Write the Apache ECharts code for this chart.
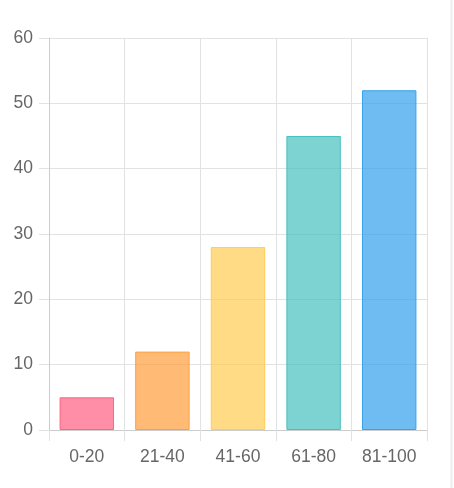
<!DOCTYPE html>
<html><head><meta charset="utf-8">
<script src="https://cdn.jsdelivr.net/npm/echarts@6/dist/echarts.min.js"></script>
<style>html,body{margin:0;padding:0;background:#fff}#c{width:454px;height:488px}</style>
</head><body><div id="c"></div>
<script>
const categories = ['0-20', '21-40', '41-60', '61-80', '81-100'];
const values = [5, 12, 28, 45, 52];
const fills = ['rgba(255,99,132,0.72)', 'rgba(255,159,64,0.72)', 'rgba(255,205,86,0.72)', 'rgba(75,192,192,0.72)', 'rgba(54,162,235,0.72)'];
const borders = ['rgb(255,99,132)', 'rgb(255,159,64)', 'rgb(255,205,86)', 'rgb(75,192,192)', 'rgb(54,162,235)'];
const yTicks = { min: 0, max: 60, interval: 10 };

const chart = echarts.init(document.getElementById('c'), null, { renderer: 'canvas' });
const font = 'Liberation Sans, Arial, Helvetica, sans-serif';
chart.setOption({
  animation: false,
  grid: { left: 49, right: 27, top: 38, bottom: 58 },
  xAxis: {
    type: 'category', data: categories, boundaryGap: true,
    axisLine: { show: true, lineStyle: { color: '#cccccc', width: 1 } },
    axisTick: { show: true, length: 11, lineStyle: { color: '#e2e2e2' } },
    splitLine: { show: true, lineStyle: { color: '#e2e2e2', width: 1 } },
    axisLabel: { color: '#666', fontSize: 17.5, fontFamily: font, margin: 18 }
  },
  yAxis: {
    type: 'value', min: yTicks.min, max: yTicks.max, interval: yTicks.interval,
    axisLine: { show: true, lineStyle: { color: '#cccccc', width: 1 } },
    axisTick: { show: true, length: 10, lineStyle: { color: '#e2e2e2' } },
    splitLine: { show: true, lineStyle: { color: '#e2e2e2', width: 1 } },
    axisLabel: { color: '#666', fontSize: 17.5, fontFamily: font, margin: 16 }
  },
  series: [{
    type: 'bar', barWidth: '72%',
    data: values.map((v, i) => ({
      value: v,
      itemStyle: { color: fills[i], borderColor: borders[i], borderWidth: 1 }
    }))
  }],
  graphic: [{
    type: 'line', shape: { x1: 451.5, y1: 0, x2: 451.5, y2: 488 },
    style: { stroke: '#eeeeee', lineWidth: 2 }
  }]
});
</script></body></html>
